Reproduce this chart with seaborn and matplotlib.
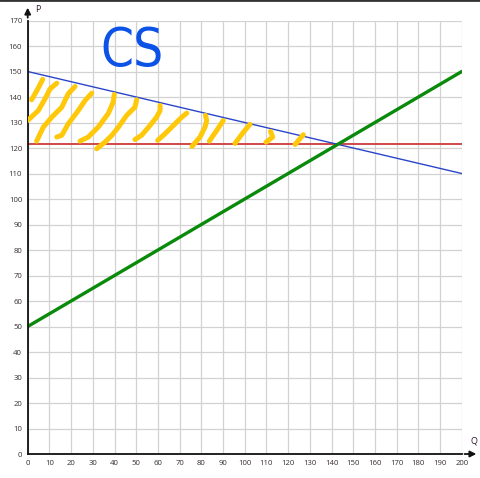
import numpy as np
import pandas as pd
import seaborn as sns
import matplotlib.pyplot as plt
from matplotlib.lines import Line2D

# market lines
q = [0, 200]
demand = [150, 110]
supply = [50, 150]
price_eq = [121.4, 121.4]

x_ticks = list(range(0, 201, 10))
y_ticks = list(range(0, 171, 10))

# hand drawn hatch strokes of the consumer surplus area, (Q, P) pairs
stroke_a = [(1.8, 138.9), (3.8, 141.9), (4.9, 143.6), (6.9, 146.9)]
stroke_b = [(0.0, 130.8), (4.9, 134.7), (8.0, 139.3), (10.3, 143.2), (13.4, 145.4)]
stroke_c = [(4.1, 122.7), (7.2, 128.2), (11.1, 132.1), (15.7, 136.0), (18.7, 141.3), (21.8, 144.1)]
stroke_d = [(13.4, 124.3), (15.7, 125.0), (18.7, 129.5), (23.3, 134.7), (26.4, 138.6), (29.5, 141.5)]
stroke_e = [(24.1, 122.7), (27.9, 124.3), (32.5, 128.2), (37.1, 133.5), (39.4, 138.0), (39.9, 141.0)]
stroke_f = [(31.8, 119.7), (35.6, 122.3), (38.7, 124.9), (41.8, 128.2), (45.6, 132.8), (49.4, 136.0), (50.2, 138.9)]
stroke_g = [(49.4, 123.3), (52.5, 125.0), (56.4, 128.9), (59.4, 132.1), (61.0, 134.7), (61.0, 136.7)]
stroke_h = [(59.9, 123.0), (63.3, 125.6), (67.9, 129.5), (71.0, 132.1), (73.3, 133.7)]
stroke_i = [(75.7, 120.6), (79.4, 124.3), (81.7, 128.2), (82.5, 130.8), (81.9, 132.8)]
stroke_j = [(83.7, 122.7), (87.1, 126.9), (90.1, 130.8)]
stroke_k = [(95.5, 121.8), (99.4, 126.2), (102.4, 129.3)]
stroke_l = [(109.8, 122.3), (112.9, 124.3), (111.9, 126.5)]
stroke_m = [(123.2, 121.4), (127.0, 125.2)]
strokes = [stroke_a, stroke_b, stroke_c, stroke_d, stroke_e, stroke_f, stroke_g,
           stroke_h, stroke_i, stroke_j, stroke_k, stroke_l, stroke_m]

sns.set_style('white')
plt.rcParams['font.family'] = ['Open Sans', 'DejaVu Sans']

fig = plt.figure(figsize=(4.81, 4.78), dpi=100)
ax = fig.add_axes([0.0576, 0.0502, 0.9024, 0.9069])

lines = pd.DataFrame({'Q': q * 3,
                      'P': demand + supply + price_eq,
                      'curve': ['demand'] * 2 + ['supply'] * 2 + ['price'] * 2})

sns.lineplot(data=lines[lines.curve == 'price'], x='Q', y='P', color='#d04848', lw=1.4, ax=ax)
sns.lineplot(data=lines[lines.curve == 'demand'], x='Q', y='P', color='#2b45c8', lw=1.0, ax=ax)
sns.lineplot(data=lines[lines.curve == 'supply'], x='Q', y='P', color='#0a8a0a', lw=2.4, ax=ax)

for s in strokes:
    xs, ys = zip(*s)
    ax.plot(xs, ys, color='#ffc80a', lw=3.6, solid_capstyle='round', solid_joinstyle='round', zorder=3)

ax.text(48, 158, 'CS', color='#0c52e6', fontsize=38, ha='center', va='center',
        family='DejaVu Sans', fontstretch='condensed', zorder=4)

ax.set_xlim(0, 200)
ax.set_ylim(0, 170)
ax.set_xticks(x_ticks)
ax.set_yticks(y_ticks)
ax.tick_params(length=0, labelsize=5.6, labelcolor='#3a3030', pad=4)
ax.grid(True, color='#d2d2d2', lw=0.9)
ax.set_axisbelow(True)
ax.set_xlabel('')
ax.set_ylabel('')

sns.despine(ax=ax, top=True, right=True)
for side in ['left', 'bottom']:
    ax.spines[side].set_color('#111111')
    ax.spines[side].set_linewidth(1.3)

# axis arrows
ax.annotate('', xy=(1.04, 0), xytext=(1.0, 0), xycoords='axes fraction',
            arrowprops=dict(arrowstyle='-|>', color='#111111', lw=1.3, mutation_scale=9),
            annotation_clip=False)
ax.annotate('', xy=(0, 1.036), xytext=(0, 1.0), xycoords='axes fraction',
            arrowprops=dict(arrowstyle='-|>', color='#111111', lw=1.3, mutation_scale=9),
            annotation_clip=False)
ax.text(1.02, 0.03, 'Q', transform=ax.transAxes, fontsize=6.5, color='#301830', va='center')
ax.text(0.018, 1.026, 'P', transform=ax.transAxes, fontsize=6.5, color='#301830', va='center')

fig.add_artist(Line2D([0, 1], [0.999, 0.999], transform=fig.transFigure, color='#333333', lw=2))

plt.savefig('out.png', dpi=100)
plt.close()
